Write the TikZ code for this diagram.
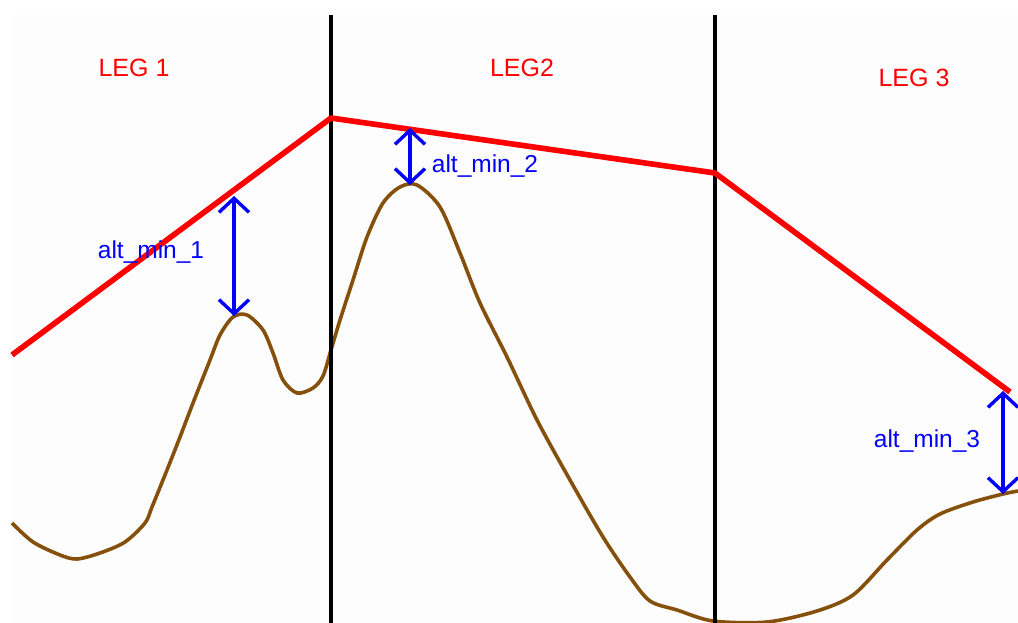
\documentclass[tikz,border=0pt]{standalone}
\usepackage{fontspec}
\setmainfont{Liberation Sans}
\usetikzlibrary{arrows.meta}
\definecolor{terrain}{RGB}{133,80,12}
\definecolor{panel}{RGB}{253,253,253}
\tikzset{
  leglabel/.style={text=red, font=\fontsize{25}{30}\selectfont, inner sep=0pt},
  altlabel/.style={text=blue, font=\fontsize{24.5}{30}\selectfont, inner sep=0pt},
  divider/.style={black, line width=3.6pt},
  route/.style={red, line width=5.6pt, line join=round},
  ground/.style={terrain, line width=3.6pt, line join=round},
  altarrow/.style={blue, line width=3.4pt, {Straight Barb[length=14pt,width=30pt,line width=3.4pt]}-{Straight Barb[length=14pt,width=30pt,line width=3.4pt]}}
}
\begin{document}
\begin{tikzpicture}[x=1pt,y=-1pt]
\useasboundingbox (0,0) rectangle (1018,623);
\fill[panel] (12,15) rectangle (1018,623);
% terrain
\draw[ground] plot[smooth, tension=0.5] coordinates {
 (12,523) (33,542) (60,555) (77,559) (100,553) (125,542) (145,523) (152,507)
 (167,470) (180,437) (193,403) (210,360) (220,335) (233,317) (247,315)
 (263,330) (273,353) (283,380) (297,393) (313,388) (323,376) (331,350)
 (340,320) (353,280) (367,237) (383,203) (400,187) (417,185) (440,207)
 (460,253) (480,303) (507,357) (537,420) (570,480) (603,537) (630,577)
 (650,601) (677,610) (713,621) (767,622) (817,611) (853,595) (887,560)
 (917,530) (940,514) (973,502) (1003,494) (1018,491)};
% dividers
\draw[divider] (331,15) -- (331,623);
\draw[divider] (715,15) -- (715,623);
% route
\coordinate (r0) at (12,355);
\coordinate (r1) at (331,118);
\coordinate (r2) at (715,173);
\coordinate (r3) at (1010,392);
\draw[route] (r0) -- (r1) -- (r2) -- (r3);
% labels
\node[leglabel] (leg1) at (134,68) {LEG 1};
\node[leglabel] (leg2) at (522,68) {LEG2};
\node[leglabel] (leg3) at (914,78) {LEG 3};
% altitude arrows
\coordinate (a1t) at (234,196);
\coordinate (a1b) at (234,316);
\coordinate (a2t) at (410,128);
\coordinate (a2b) at (410,185);
\coordinate (a3t) at (1003,391);
\coordinate (a3b) at (1003,494);
\draw[altarrow] (a1t) -- (a1b);
\draw[altarrow] (a2t) -- (a2b);
\draw[altarrow] (a3t) -- (a3b);
\node[altlabel, anchor=base] (alt1) at (151,258) {alt\_min\_1};
\node[altlabel, anchor=base] (alt2) at (485,172) {alt\_min\_2};
\node[altlabel, anchor=base] (alt3) at (927,447) {alt\_min\_3};
\end{tikzpicture}
\end{document}
